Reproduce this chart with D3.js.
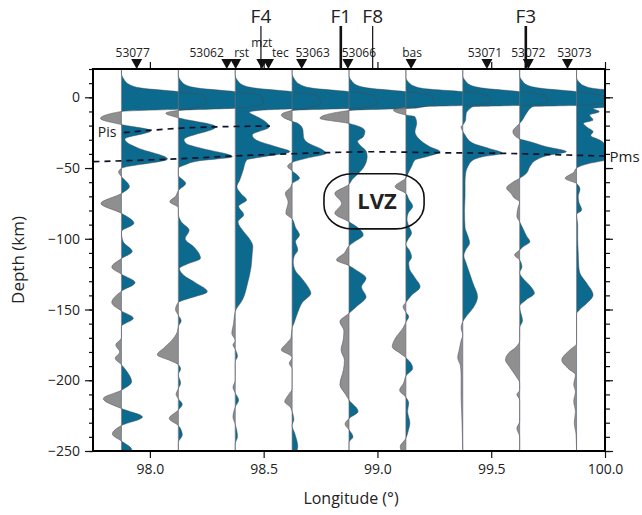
<!DOCTYPE html>
<html>
<head>
<meta charset="utf-8">
<script src="https://cdn.jsdelivr.net/npm/d3@7"></script>
<style>
  body { margin: 0; background: #fff; }
  svg { display: block; }
  text { font-family: "Open Sans", "Noto Sans", sans-serif; fill: #222; }
</style>
</head>
<body>
<svg id="chart" width="642" height="515"></svg>
<script>
// ---- data -------------------------------------------------------------
// longitude of each stacking bin (trace baseline)
const binLon = [97.875, 98.125, 98.375, 98.625, 98.875, 99.125, 99.375, 99.625, 99.875];

// stacked receiver-function amplitudes per bin: [depth (km), amplitude]
// amplitude is expressed in units of the bin spacing
const rf1 = [[20,0],[17,0],[13,0.04],[9,0.14],[6.5,0.35],[4,1.0],[1,1.45],[-4,1.5],[-8,1.2],[-10,0],
  [-15,-0.37],[-19.3,0],[-23.6,0.52],[-29.5,0.06],[-32,0.1],[-36,0.3],[-43.6,0.81],[-50.2,0],
  [-53,-0.05],[-56,0],[-63,0.14],[-68,0],[-75,-0.36],[-82,0],[-89,0.22],[-95,0],[-102,0.03],
  [-109,0.19],[-114,0],[-120,-0.17],[-125,0],[-131,0.24],[-137,0],[-145,-0.17],[-151,0],
  [-156.2,0.21],[-162,0],[-170,0],[-175,-0.1],[-180,-0.03],[-184.5,-0.11],[-189,0],[-194,0.1],
  [-201,0.18],[-207,0],[-213,-0.32],[-220,0],[-226,0.37],[-232,0],[-238,-0.16],[-243,0],
  [-249,0.18],[-250,0.17]];
const rf2 = [[20,0],[16,0],[12,0.04],[8.5,0.14],[6.5,0.35],[4,1.0],[1,1.45],[-4,1.5],[-7.5,1.1],[-9.3,0],
  [-11.3,-0.22],[-14.5,0],[-20.8,0.66],[-30,0.1],[-33,0.15],[-36,0.4],[-42,0.95],[-45,0.35],[-48,0.1],
  [-50,0],[-55,0],[-60.8,0.13],[-66,0],[-70,-0.05],[-73.8,-0.15],[-78,0],[-82,0],[-88,0.05],
  [-94,0.19],[-100,0.12],[-106,0.28],[-113.8,0.39],[-118,0.15],[-121,0.02],[-126,0.1],[-131,0.3],
  [-137.4,0.51],[-142,0.2],[-145,0],[-150,-0.05],[-154,0],[-158,0.05],[-162,0],[-166,-0.02],
  [-172,-0.12],[-177,-0.25],[-182,-0.37],[-186,-0.15],[-189,0],[-192,0.04],[-196,0],[-202,0.04],
  [-206,0],[-210,-0.04],[-213,0],[-217,0.07],[-221,0],[-227,-0.16],[-232,0],[-238.7,0.07],
  [-244,0],[-250,0]];
const rf3 = [[20,0],[16,0],[12,0.04],[8.5,0.14],[6.5,0.35],[4,1.0],[1,1.45],[-4,1.5],[-7.5,1.3],[-9,0.5],
  [-10.5,0.25],[-13,0.35],[-16,0.49],[-20.8,0.6],[-26.6,0.3],[-30.2,0.37],[-35,0.72],[-38.4,0.96],
  [-42,0.49],[-44.3,0.2],[-51.4,0.14],[-58.5,0.08],[-63.2,0.03],[-68,0.1],[-72.6,0.2],[-77,0.06],
  [-83,0.15],[-88,0.05],[-95,0.15],[-100,0.25],[-105.6,0.31],[-110,0.3],[-119.7,0.28],[-131,0.22],
  [-143,0.13],[-151.5,0],[-160,-0.03],[-167,-0.06],[-172,0],[-175,-0.04],[-178,0],[-183,0.04],
  [-187,0],[-200,0],[-205,-0.04],[-209,0],[-214,0.06],[-219,0],[-226,-0.04],[-231,0],[-240,0.04],
  [-245,0],[-250,0]];
const rf4 = [[20,0],[17,0],[13,0.04],[9,0.14],[6.5,0.35],[4,1.0],[1,1.45],[-4,1.5],[-7.5,1.2],[-9.3,0],
  [-12.5,-0.19],[-17,0],[-18.4,0.1],[-23,0.19],[-27.8,0.2],[-31.4,0.25],[-37.3,0.54],[-39.6,0.6],
  [-43.1,0.25],[-46,0],[-49,-0.08],[-52,0],[-57.3,0.13],[-61,0],[-63,-0.02],[-67.9,-0.12],
  [-74,-0.07],[-82,-0.11],[-86,0],[-92,0.06],[-97.3,0.13],[-102,0.06],[-108,0.1],[-112,0.04],
  [-116,0.02],[-122,0.05],[-128,0.17],[-134,0.28],[-138.5,0.33],[-145,0.18],[-152,0.1],[-160,0.03],
  [-163,0],[-170,-0.02],[-174,-0.1],[-178.6,-0.19],[-182,-0.05],[-184,0],[-188,-0.05],[-192,0],
  [-206,0],[-210,-0.06],[-215.2,-0.13],[-219,-0.03],[-222,0],[-228,0.03],[-232,0],[-238,0.05],
  [-247,0.1],[-250,0.08]];
const rf5 = [[20,0],[15,0],[12,0.04],[8.5,0.14],[6.5,0.35],[4,1.0],[1,1.45],[-4,1.5],[-7.5,1.2],[-9.3,0],
  [-14.8,-0.51],[-18.5,0],[-21,0.2],[-24,0.28],[-28,0.25],[-31,0.15],[-34,0.2],[-38,0.3],[-42,0.32],
  [-46,0.3],[-50,0.25],[-54,0.16],[-58,0.06],[-61.5,0],[-67.9,-0.25],[-75,-0.13],[-82,-0.25],
  [-88,0],[-93,0.18],[-97.3,0.25],[-102,0.1],[-105,0],[-110,-0.08],[-115,-0.22],[-119,0],
  [-122,0.12],[-128,0.3],[-134,0.22],[-141,0.3],[-148,0.13],[-152.7,0],[-158.6,-0.16],[-165,-0.09],
  [-171,-0.1],[-178.6,-0.14],[-186,-0.08],[-193,-0.1],[-203,-0.16],[-210,-0.06],[-214,0],
  [-222,0.16],[-227,0],[-231,-0.07],[-235,0],[-240,0.07],[-244,0],[-250,0]];
const rf6 = [[20,0],[14,0],[11,0.04],[8,0.14],[6,0.35],[4,1.0],[1,1.45],[-3,1.5],[-5.5,1.2],[-7,0],
  [-9,-0.22],[-12.5,0],[-13.7,0.16],[-18.4,0.19],[-24.3,0.16],[-29,0.22],[-34.9,0.42],[-38.4,0.6],
  [-42,0.36],[-44.3,0.16],[-49,0.1],[-53.7,0.04],[-57,0],[-63.2,-0.19],[-68,0],[-72,0.05],
  [-77,0.12],[-82,0.04],[-86,0.02],[-91,0.05],[-96,0.1],[-101,0.03],[-104,0],[-108,0.06],
  [-113,0.1],[-117,0.05],[-121,0.06],[-127,0.15],[-133.9,0.25],[-140,0.1],[-145,0],[-148,-0.05],
  [-152,0],[-155,0.05],[-159,0],[-163,-0.05],[-170,-0.18],[-176.3,-0.24],[-181,-0.1],[-184,0],
  [-191.5,0.12],[-197,0],[-202,-0.04],[-207,-0.11],[-212,0],[-216,0.05],[-222,0.03],[-230,0.07],
  [-236,0.04],[-241,0],[-247,-0.1],[-250,-0.08]];
const rf7 = [[20,0],[15,0],[12,0.04],[8.5,0.14],[6.5,0.35],[4,1.0],[1,1.45],[-3,1.5],[-5.5,1.2],
  [-6.6,0.18],[-9,0.1],[-11.3,0.06],[-16,0.05],[-19,0.01],[-21,-0.03],[-24,0],[-26,0.03],
  [-32.5,0.18],[-36,0.45],[-39.6,0.7],[-42,0.35],[-44.3,0.18],[-49,0.09],[-54,0.05],[-60,0.04],
  [-70,0.04],[-80,0.03],[-92,0.04],[-97,0.08],[-103,0.12],[-108,0.05],[-112,0.02],[-117.3,0.06],
  [-124.4,0.12],[-131.5,0.18],[-141,0.26],[-149,0.18],[-155,0.06],[-158.6,0],[-163,-0.03],
  [-168,0],[-172,-0.03],[-178,-0.06],[-184,-0.09],[-190,-0.04],[-197,-0.03],[-210,-0.03],
  [-222,-0.02],[-235,-0.01],[-250,0]];
const rf8 = [[20,0],[15,0],[12,0.04],[8.5,0.14],[6.5,0.35],[4,1.0],[1,1.45],[-3,1.5],[-5.5,1.2],
  [-6.6,0.23],[-11.3,0.12],[-16,0.05],[-18.4,0],[-24.3,-0.12],[-29.5,0],[-30.5,0.1],[-34.9,0.47],
  [-38.4,0.82],[-41,0.5],[-44.3,0.29],[-49,0.18],[-53.7,0.12],[-57.3,0],[-60,-0.12],[-64.3,-0.23],
  [-68,-0.15],[-71,-0.1],[-74,0],[-78,-0.03],[-84,-0.05],[-88,0],[-93,0.06],[-98,0.12],[-102,0.18],
  [-106,0.05],[-108,0],[-111.5,-0.09],[-115,0],[-120,0.04],[-124,0],[-129,0.08],[-134,0.2],
  [-138.5,0.26],[-143,0.12],[-148,0],[-158,0.05],[-163,0],[-172,0],[-176.3,-0.06],[-181,-0.2],
  [-185.7,-0.25],[-190.4,-0.18],[-197.5,-0.06],[-202,0],[-207,0],[-210,-0.05],[-214,0],[-229,0],
  [-234,-0.05],[-240,0],[-250,0]];
const rf9 = [[20,0],[14,0],[11,0.04],[8,0.14],[6,0.35],[4,1.0],[1,1.45],[-3,1.5],[-6,1.2],
  [-7.8,0.29],[-10.2,0.4],[-12.5,0.23],[-16,0.29],[-18.4,0.12],[-21,0.18],[-24.3,0.29],[-27,0.25],
  [-30.2,0.41],[-35,0.55],[-39.4,0.7],[-44,0.55],[-47,0.2],[-50,0],[-53,-0.05],[-57.3,-0.2],
  [-61,0],[-65,0.06],[-70,0.03],[-74,0.04],[-79.7,0.09],[-83,0],[-90,0.02],[-100,0.02],[-110,0.03],
  [-120,0.04],[-124.4,0.06],[-131.5,0.18],[-139.7,0.29],[-145.6,0.18],[-150.3,0.05],[-153,0],
  [-174,0],[-178.6,-0.12],[-185.7,-0.26],[-191.6,-0.15],[-196.3,-0.02],[-203,-0.05],[-208,-0.02],
  [-215,-0.05],[-222,-0.02],[-230,-0.04],[-238,-0.01],[-250,0]];
const traces = [rf1, rf2, rf3, rf4, rf5, rf6, rf7, rf8, rf9];

// seismic stations along the profile
const stationNames = ["53077", "53062", "rst", "mzt", "tec", "53063", "53066", "bas", "53071", "53072", "53073"];
const stationLon = [97.942, 98.338, 98.377, 98.492, 98.521, 98.667, 98.870, 99.148, 99.481, 99.663, 99.835];

// faults crossed by the profile
const faultNames = ["F4", "F1", "F8", "F3"];
const faultLon = [98.488, 98.839, 98.979, 99.652];
const faultMajor = [false, true, false, true];

// interpreted interfaces: [longitude, depth]
const pisLine = [[97.885, -25], [98.176, -21.5], [98.528, -20.3]];
const pmsLine = [[97.752, -45.5], [98.074, -43.8], [98.47, -40.8], [98.761, -39.2], [98.968, -38.5],
  [99.275, -39.2], [99.552, -39.6], [99.834, -40.8], [100.0, -41.5]];

// low-velocity zone outline extent
const lvzLon = [98.765, 99.205];
const lvzDepth = [-54, -93];

const lonTicks = [98.0, 98.5, 99.0, 99.5, 100.0];
const depthTicks = [-250, -200, -150, -100, -50, 0];
const depthMinorTicks = d3.range(-250, 21, 10);

// ---- layout -----------------------------------------------------------
const BLUE = "#0b6a8e", GREY = "#8f8f8f";
const ampUnit = 0.25;   // one amplitude unit = bin spacing in degrees

const svg = d3.select("#chart");
const x = d3.scaleLinear().domain([97.75, 100]).range([93, 605]);
const y = d3.scaleLinear().domain([-250, 20]).range([451, 69]);
const [X0, X1] = x.range();
const [Y1, Y0] = y.range();

const defs = svg.append("defs");
defs.append("clipPath").attr("id", "plot")
  .append("rect").attr("x", X0).attr("y", Y0).attr("width", X1 - X0).attr("height", Y1 - Y0);

// ---- traces -----------------------------------------------------------
const gTr = svg.append("g");
traces.forEach((tr, i) => {
  const L = binLon[i];
  const xb = x(L);
  defs.append("clipPath").attr("id", "pos" + i)
    .append("rect").attr("x", xb).attr("y", Y0).attr("width", X1 - xb).attr("height", Y1 - Y0);
  defs.append("clipPath").attr("id", "neg" + i)
    .append("rect").attr("x", X0).attr("y", Y0).attr("width", xb - X0).attr("height", Y1 - Y0);

  const area = d3.area()
    .curve(d3.curveMonotoneY)
    .y(d => y(d[0]))
    .x0(xb)
    .x1(d => x(L + d[1] * ampUnit));
  gTr.append("path").attr("d", area(tr)).attr("fill", GREY).attr("clip-path", `url(#neg${i})`);
  gTr.append("path").attr("d", area(tr)).attr("fill", BLUE).attr("clip-path", `url(#pos${i})`);
});

// trace baselines and wiggle outlines
const gOut = svg.append("g").attr("clip-path", "url(#plot)");
traces.forEach((tr, i) => {
  const L = binLon[i];
  gOut.append("line")
    .attr("x1", x(L)).attr("x2", x(L)).attr("y1", Y0).attr("y2", Y1)
    .attr("stroke", "#6f6f78").attr("stroke-width", 0.7);
  const line = d3.line().curve(d3.curveMonotoneY)
    .y(d => y(d[0])).x(d => x(L + d[1] * ampUnit));
  gOut.append("path").attr("d", line(tr))
    .attr("fill", "none").attr("stroke", "#4a4a52").attr("stroke-width", 0.6).attr("stroke-opacity", 0.8);
});

// ---- interfaces -------------------------------------------------------
const iface = d3.line().curve(d3.curveMonotoneX).x(d => x(d[0])).y(d => y(d[1]));
[pisLine, pmsLine].forEach(pts => {
  svg.append("path").attr("d", iface(pts))
    .attr("fill", "none").attr("stroke", "#10122a").attr("stroke-width", 1.7)
    .attr("stroke-dasharray", "6,5");
});
svg.append("text").attr("x", x(97.771)).attr("y", y(-27.8))
  .attr("font-size", 14).text("Pis");
svg.append("text").attr("x", x(100.02)).attr("y", y(-45.5))
  .attr("font-size", 15).text("Pms");

// ---- low-velocity zone ------------------------------------------------
svg.append("rect")
  .attr("x", x(lvzLon[0])).attr("y", y(lvzDepth[0]))
  .attr("width", x(lvzLon[1]) - x(lvzLon[0]))
  .attr("height", y(lvzDepth[1]) - y(lvzDepth[0]))
  .attr("rx", 28).attr("ry", 24)
  .attr("fill", "none").attr("stroke", "#111").attr("stroke-width", 1.6);
svg.append("text")
  .attr("x", x((lvzLon[0] + lvzLon[1]) / 2) + 3).attr("y", y((lvzDepth[0] + lvzDepth[1]) / 2) + 8)
  .attr("text-anchor", "middle").attr("font-size", 22).attr("font-weight", 700).text("LVZ");

// ---- axes -------------------------------------------------------------
const styleAxis = g => {
  g.select(".domain").remove();
  g.selectAll(".tick line").attr("stroke", "#111").attr("stroke-width", 1.2);
  g.selectAll(".tick text").attr("font-size", 14).attr("fill", "#222")
    .attr("font-family", '"Open Sans", sans-serif');
};
svg.append("g").attr("transform", `translate(${X0},0)`)
  .call(d3.axisLeft(y).tickValues(depthMinorTicks).tickSize(4).tickFormat(""))
  .call(styleAxis);
svg.append("g").attr("transform", `translate(${X0},0)`)
  .call(d3.axisLeft(y).tickValues(depthTicks).tickSize(8).tickPadding(5))
  .call(styleAxis);
svg.append("g").attr("transform", `translate(${X1},0)`)
  .call(d3.axisRight(y).tickValues(depthMinorTicks).tickSize(5).tickFormat(""))
  .call(styleAxis);
svg.append("g").attr("transform", `translate(${X1},0)`)
  .call(d3.axisRight(y).tickValues(depthTicks).tickSize(8).tickFormat(""))
  .call(styleAxis);
svg.append("g").attr("transform", `translate(0,${Y1})`)
  .call(d3.axisBottom(x).tickValues(lonTicks).tickSize(7).tickPadding(6).tickFormat(d3.format(".1f")))
  .call(styleAxis);
svg.append("g").attr("transform", `translate(0,${Y0})`)
  .call(d3.axisTop(x).tickValues(lonTicks).tickSize(7).tickFormat(""))
  .call(styleAxis);

svg.append("rect").attr("x", X0).attr("y", Y0).attr("width", X1 - X0).attr("height", Y1 - Y0)
  .attr("fill", "none").attr("stroke", "#000").attr("stroke-width", 2);

svg.append("text")
  .attr("transform", `translate(24,${(Y0 + Y1) / 2}) rotate(-90)`)
  .attr("text-anchor", "middle").attr("font-size", 17).text("Depth (km)");
svg.append("text")
  .attr("x", (X0 + X1) / 2 + 2).attr("y", 504)
  .attr("text-anchor", "middle").attr("font-size", 16).text("Longitude (°)");

// ---- stations ---------------------------------------------------------
const labelDx = [-4, -10, 6, 0, 12, 11, 11, 1, -2, 0, 7];
const labelY = [57, 57, 57, 47, 57, 57, 57, 57, 57, 57, 57];
const labelAnchor = ["middle", "end", "middle", "middle", "middle", "middle", "middle", "middle", "middle", "middle", "middle"];
const tri = d3.line();
stationLon.forEach((lon, i) => {
  const cx = x(lon);
  svg.append("path")
    .attr("d", tri([[cx - 5.5, Y0 - 10], [cx + 5.5, Y0 - 10], [cx, Y0]]) + "Z")
    .attr("fill", "#111");
  svg.append("text")
    .attr("x", labelAnchor[i] === "end" ? cx - 3 : cx + labelDx[i])
    .attr("y", labelY[i])
    .attr("text-anchor", labelAnchor[i])
    .attr("font-size", 12).text(stationNames[i]);
});

// ---- faults -----------------------------------------------------------
faultLon.forEach((lon, i) => {
  const fx = x(lon);
  svg.append("line")
    .attr("x1", fx).attr("x2", fx).attr("y1", 26).attr("y2", Y0)
    .attr("stroke", "#111").attr("stroke-width", faultMajor[i] ? 2.6 : 1.2);
  svg.append("text").attr("x", fx).attr("y", 23)
    .attr("text-anchor", "middle").attr("font-size", 19).text(faultNames[i]);
});
</script>
</body>
</html>
